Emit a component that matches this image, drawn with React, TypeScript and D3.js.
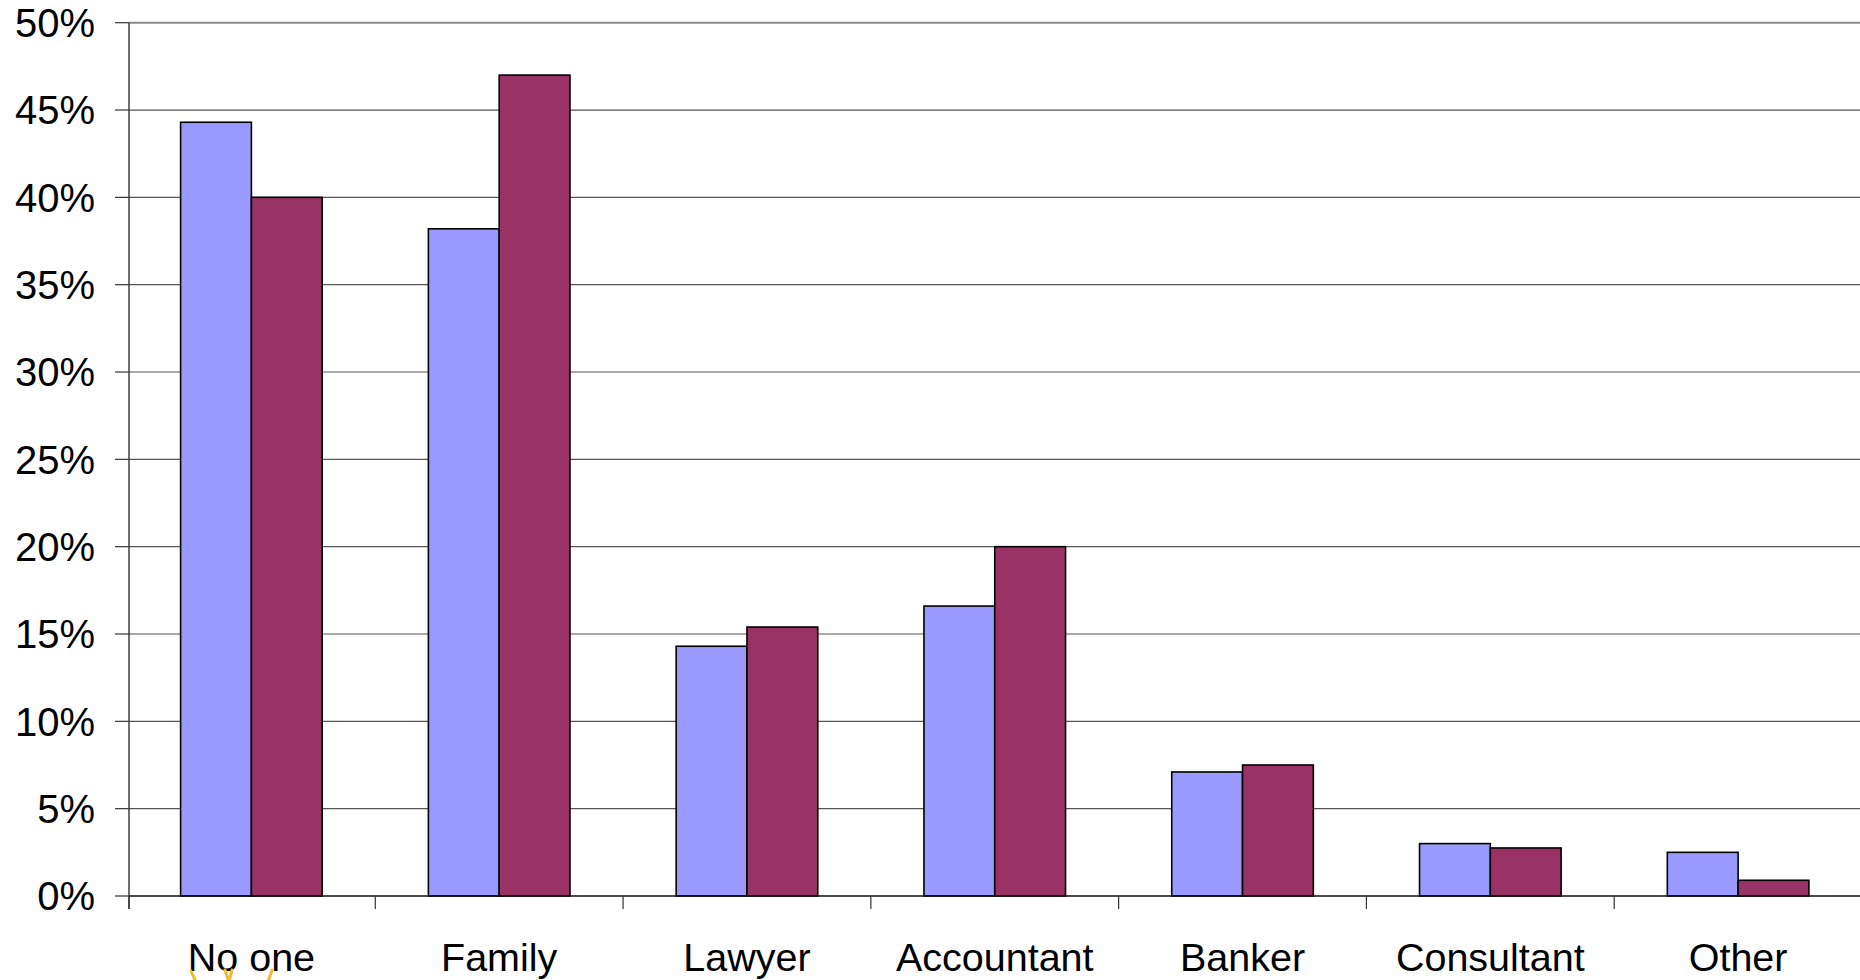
import React from "react";
import * as d3 from "d3";

const categories = ["No one", "Family", "Lawyer", "Accountant", "Banker", "Consultant", "Other"];
const seriesA = [0.443, 0.382, 0.143, 0.166, 0.071, 0.03, 0.025];
const seriesB = [0.4, 0.47, 0.154, 0.2, 0.075, 0.0275, 0.009];
const yTicks = [0, 0.05, 0.1, 0.15, 0.2, 0.25, 0.3, 0.35, 0.4, 0.45, 0.5];

const W = 1860;
const H = 980;
const axisX = 129;
const left = 127.5;
const right = 1862;
const top = 22.7;
const bottom = 896;

export default function App() {
  const x = d3.scaleBand<string>().domain(categories).range([left, right]).paddingInner(0).paddingOuter(0);
  const bw = x.bandwidth() / 3.5;
  const y = d3.scaleLinear().domain([0, 0.5]).range([bottom, top]);
  const fmt = d3.format(".0%");
  const font = "'Liberation Sans', Arial, sans-serif";
  const series = [
    { vals: seriesA, color: "#9999FF", off: 0 },
    { vals: seriesB, color: "#993366", off: 1 },
  ];
  const tickXs = [axisX].concat(categories.slice(1).map((c) => x(c)!));
  return (
    <svg width={W} height={H} style={{ position: "absolute", left: 0, top: 0, background: "#fff" }}>
      <rect x={0} y={0} width={W} height={H} fill="#fff" />
      {yTicks.map((t) => (
        <g key={t}>
          {t > 0 && (
            <line x1={axisX} x2={W} y1={y(t)} y2={y(t)} stroke={t === 0.5 ? "#8a8a8a" : "#555"} strokeWidth={t === 0.5 ? 2 : 1.2} />
          )}
          <line x1={115} x2={axisX} y1={y(t)} y2={y(t)} stroke="#333" strokeWidth={1.2} />
          <text x={95} y={y(t)} dy="0.36em" textAnchor="end" fontFamily={font} fontSize={40} fill="#000">
            {fmt(t)}
          </text>
        </g>
      ))}
      {series.map((s) =>
        categories.map((c, i) => {
          const x0 = x(c)! + bw * 0.75 + s.off * bw;
          return (
            <rect
              key={c + s.off}
              x={x0}
              y={y(s.vals[i])}
              width={bw}
              height={bottom - y(s.vals[i])}
              fill={s.color}
              stroke="#000"
              strokeWidth={1.6}
            />
          );
        })
      )}
      <line x1={axisX} x2={W} y1={bottom} y2={bottom} stroke="#111" strokeWidth={1.6} />
      <line x1={axisX} x2={axisX} y1={top} y2={909} stroke="#333" strokeWidth={1.4} />
      {tickXs.map((tx, i) => (
        <line key={i} x1={tx} x2={tx} y1={bottom} y2={909} stroke="#333" strokeWidth={1.2} />
      ))}
      {categories.map((c) => (
        <text key={c} x={x(c)! + x.bandwidth() / 2} y={971} textAnchor="middle" fontFamily={font} fontSize={39.5} fill="#000">
          {c}
        </text>
      ))}
      <g stroke="#F5B82E" strokeWidth={3} strokeLinecap="round">
        <line x1={191} y1={971} x2={196} y2={982} />
        <line x1={225} y1={970} x2={229} y2={982} />
        <line x1={232} y1={970} x2={229} y2={982} />
        <line x1={272} y1={970} x2={268} y2={982} />
      </g>
    </svg>
  );
}
